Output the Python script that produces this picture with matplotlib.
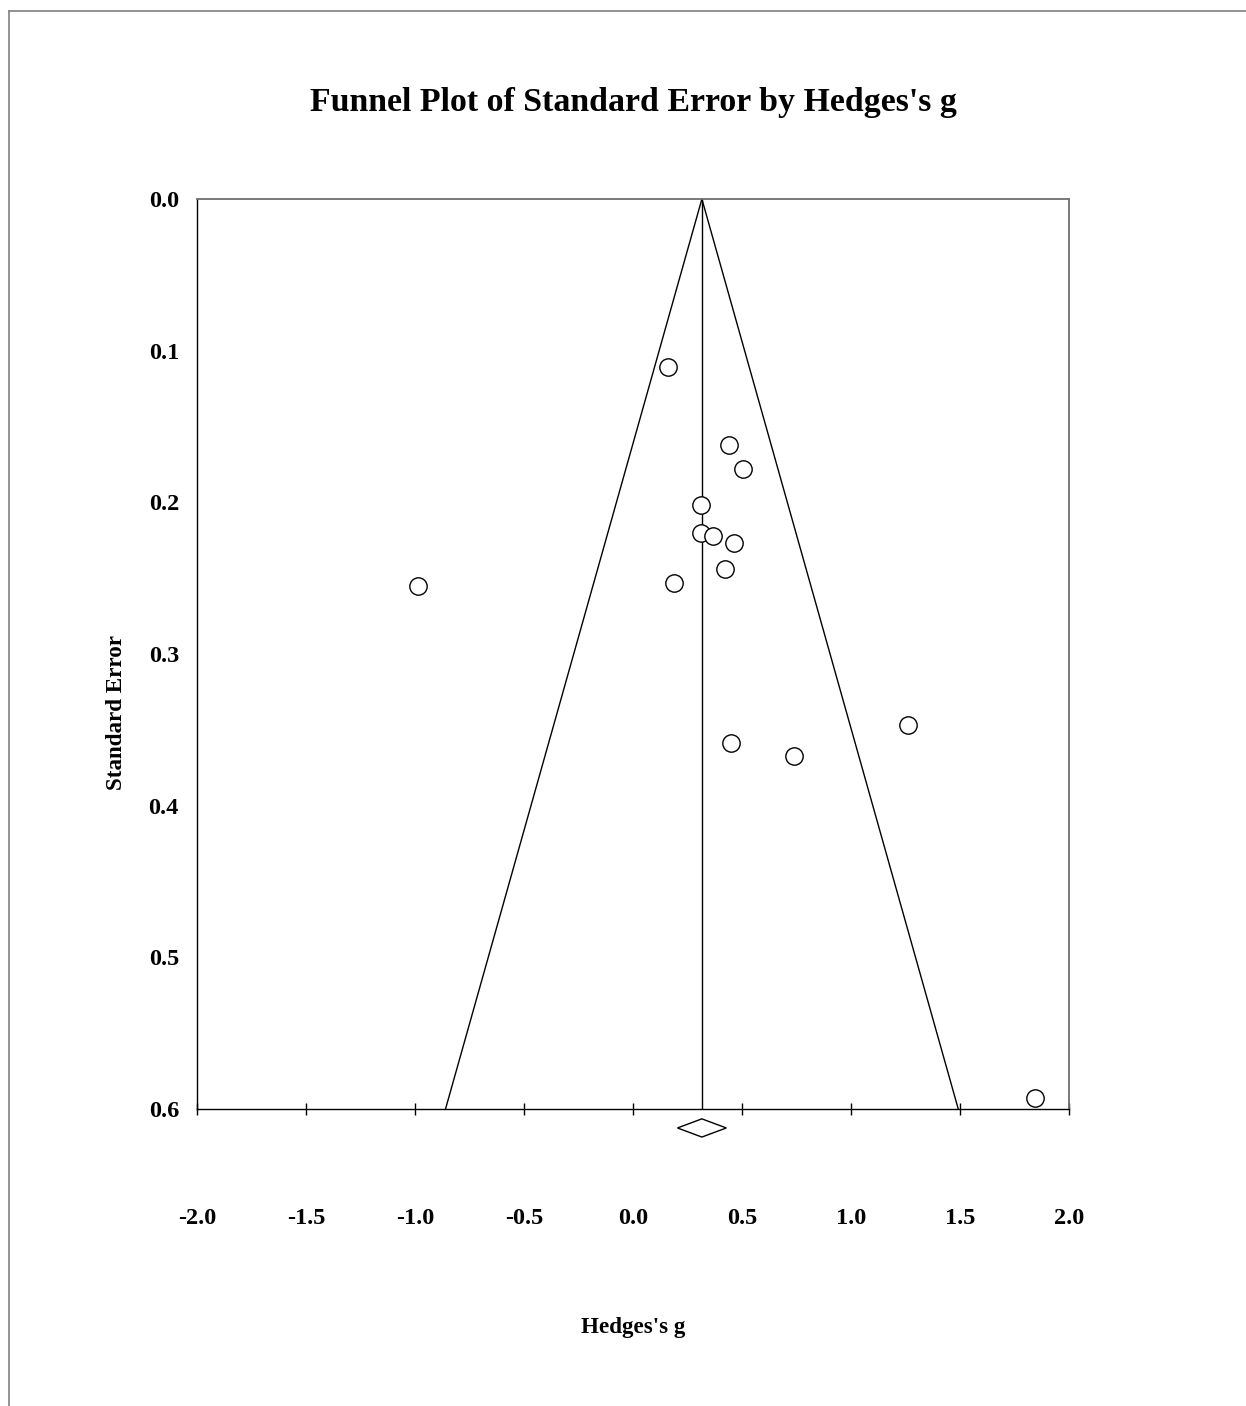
import matplotlib
matplotlib.use("Agg")
import matplotlib.pyplot as plt
from matplotlib.lines import Line2D

# ---- data ----
hedges_g = [0.161, 0.440, 0.505, 0.312, 0.312, 0.367, 0.463, 0.422, 0.188, -0.986, 1.261, 0.450, 0.739, 1.844]
std_err = [0.111, 0.162, 0.178, 0.202, 0.220, 0.222, 0.227, 0.244, 0.253, 0.255, 0.347, 0.359, 0.367, 0.593]
pooled_g = 0.316
pooled_ci = [0.204, 0.428]
x_ticks = [-2.0, -1.5, -1.0, -0.5, 0.0, 0.5, 1.0, 1.5, 2.0]
y_ticks = [0.0, 0.1, 0.2, 0.3, 0.4, 0.5, 0.6]
title = "Funnel Plot of Standard Error by Hedges's g"
xlabel = "Hedges's g"
ylabel = "Standard Error"

plt.rcParams['font.family'] = ['Liberation Serif', 'DejaVu Serif']

W, H = 1246, 1406
fig = plt.figure(figsize=(W / 100, H / 100), dpi=100)
ax = fig.add_axes([197 / W, 1 - 1109 / H, (1069 - 197) / W, (1109 - 199) / H])

ax.set_xlim(-2.0, 2.0)
ax.set_ylim(0.6, 0.0)

# funnel
se_max = 0.6
ax.plot([pooled_g - 1.96 * se_max, pooled_g, pooled_g + 1.96 * se_max], [se_max, 0, se_max],
        color='black', lw=1.0, clip_on=False)
ax.plot([pooled_g, pooled_g], [0, se_max], color='black', lw=1.0)

# points
ax.plot(hedges_g, std_err, 'o', mfc='white', mec='black', ms=12.5, mew=1.0, clip_on=False, zorder=3)

# diamond
yd, hd = 0.6125, 0.006
ax.fill([pooled_ci[0], pooled_g, pooled_ci[1], pooled_g, pooled_ci[0]],
        [yd, yd - hd, yd, yd + hd, yd], facecolor='white', edgecolor='black', lw=1.0, clip_on=False)

fs = 17.5
ax.set_xticks(x_ticks)
ax.set_xticklabels([f"{v:.1f}" for v in x_ticks], fontsize=fs, fontweight='bold')
ax.set_yticks(y_ticks)
ax.set_yticklabels([f"{v:.1f}" for v in y_ticks], fontsize=fs, fontweight='bold')
ax.tick_params(axis='x', direction='inout', length=9, width=1.0, pad=67, color='black')
ax.tick_params(axis='y', length=0, pad=13)

for s in ['left', 'bottom']:
    ax.spines[s].set_color('black')
    ax.spines[s].set_linewidth(1.0)
for s in ['top', 'right']:
    ax.spines[s].set_color('#707070')
    ax.spines[s].set_linewidth(1.3)

ax.set_xlabel(xlabel, fontsize=16.6, fontweight='bold')
ax.xaxis.set_label_coords(0.5, -0.2285)
ax.set_ylabel(ylabel, fontsize=16.6, fontweight='bold')
ax.yaxis.set_label_coords(-0.080, 0.436)

fig.text(633 / W, 1 - 103 / H, title, fontsize=24.4, fontweight='bold', ha='center', va='center')

# outer frame lines (top and left)
fig.add_artist(Line2D([9 / W, 1.0], [1 - 11 / H, 1 - 11 / H], color='#808080', lw=1.2, transform=fig.transFigure))
fig.add_artist(Line2D([9 / W, 9 / W], [0, 1 - 11 / H], color='#808080', lw=1.2, transform=fig.transFigure))

fig.savefig('out.png', dpi=100, facecolor='white')
